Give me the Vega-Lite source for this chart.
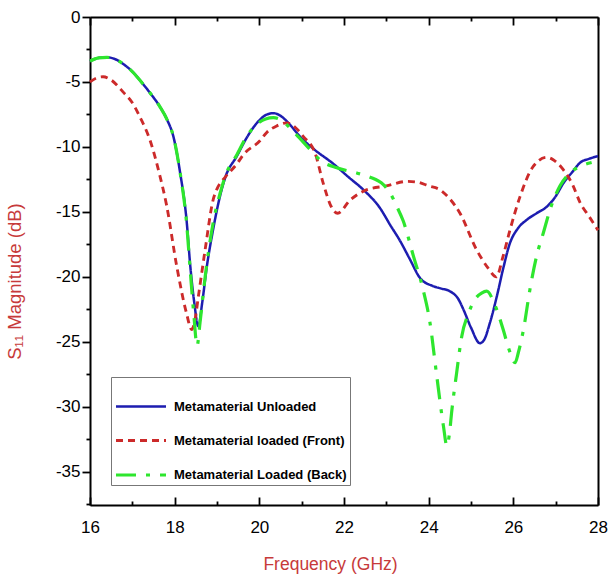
{
  "$schema": "https://vega.github.io/schema/vega-lite/v6.json",
  "width": 508,
  "height": 488,
  "autosize": "none",
  "padding": {"left": 90, "top": 17, "right": 10, "bottom": 70},
  "config": {
    "view": {"stroke": null},
    "font": "Liberation Sans",
    "axis": {"domainColor": "black", "domainWidth": 2, "tickColor": "black", "tickWidth": 1.8, "labelFont": "Liberation Sans", "labelFontSize": 17, "labelColor": "black", "titleFont": "Liberation Sans", "titleFontSize": 17.5, "titleFontWeight": "normal", "titleColor": "#c73a3a", "grid": false}
  },
  "datasets": {
    "curves": [
      {"s": "Metamaterial Unloaded", "f": 16.0, "v": -3.4},
      {"s": "Metamaterial Unloaded", "f": 16.2, "v": -3.15},
      {"s": "Metamaterial Unloaded", "f": 16.4, "v": -3.1},
      {"s": "Metamaterial Unloaded", "f": 16.6, "v": -3.25},
      {"s": "Metamaterial Unloaded", "f": 16.8, "v": -3.65},
      {"s": "Metamaterial Unloaded", "f": 17.0, "v": -4.2},
      {"s": "Metamaterial Unloaded", "f": 17.2, "v": -4.95},
      {"s": "Metamaterial Unloaded", "f": 17.42, "v": -5.85},
      {"s": "Metamaterial Unloaded", "f": 17.65, "v": -6.9},
      {"s": "Metamaterial Unloaded", "f": 17.82, "v": -7.9},
      {"s": "Metamaterial Unloaded", "f": 17.97, "v": -9.2},
      {"s": "Metamaterial Unloaded", "f": 18.13, "v": -12.0},
      {"s": "Metamaterial Unloaded", "f": 18.28, "v": -15.6},
      {"s": "Metamaterial Unloaded", "f": 18.37, "v": -19.2},
      {"s": "Metamaterial Unloaded", "f": 18.46, "v": -21.9},
      {"s": "Metamaterial Unloaded", "f": 18.56, "v": -23.8},
      {"s": "Metamaterial Unloaded", "f": 18.65, "v": -22.0},
      {"s": "Metamaterial Unloaded", "f": 18.76, "v": -19.2},
      {"s": "Metamaterial Unloaded", "f": 18.9, "v": -16.5},
      {"s": "Metamaterial Unloaded", "f": 19.07, "v": -13.8},
      {"s": "Metamaterial Unloaded", "f": 19.2, "v": -12.3},
      {"s": "Metamaterial Unloaded", "f": 19.47, "v": -10.7},
      {"s": "Metamaterial Unloaded", "f": 19.7, "v": -9.3},
      {"s": "Metamaterial Unloaded", "f": 20.0, "v": -7.95},
      {"s": "Metamaterial Unloaded", "f": 20.15, "v": -7.55},
      {"s": "Metamaterial Unloaded", "f": 20.33, "v": -7.4},
      {"s": "Metamaterial Unloaded", "f": 20.5, "v": -7.6},
      {"s": "Metamaterial Unloaded", "f": 20.7, "v": -8.2},
      {"s": "Metamaterial Unloaded", "f": 20.96, "v": -9.2},
      {"s": "Metamaterial Unloaded", "f": 21.3, "v": -10.2},
      {"s": "Metamaterial Unloaded", "f": 21.75, "v": -11.3},
      {"s": "Metamaterial Unloaded", "f": 22.1, "v": -12.3},
      {"s": "Metamaterial Unloaded", "f": 22.46, "v": -13.3},
      {"s": "Metamaterial Unloaded", "f": 22.85, "v": -14.7},
      {"s": "Metamaterial Unloaded", "f": 23.09, "v": -16.0},
      {"s": "Metamaterial Unloaded", "f": 23.32, "v": -17.2},
      {"s": "Metamaterial Unloaded", "f": 23.55, "v": -18.6},
      {"s": "Metamaterial Unloaded", "f": 23.8, "v": -20.1},
      {"s": "Metamaterial Unloaded", "f": 24.1, "v": -20.7},
      {"s": "Metamaterial Unloaded", "f": 24.3, "v": -20.9},
      {"s": "Metamaterial Unloaded", "f": 24.5, "v": -21.1},
      {"s": "Metamaterial Unloaded", "f": 24.7, "v": -21.7},
      {"s": "Metamaterial Unloaded", "f": 24.82, "v": -22.5},
      {"s": "Metamaterial Unloaded", "f": 25.0, "v": -23.9},
      {"s": "Metamaterial Unloaded", "f": 25.21, "v": -25.1},
      {"s": "Metamaterial Unloaded", "f": 25.3, "v": -24.9},
      {"s": "Metamaterial Unloaded", "f": 25.45, "v": -23.5},
      {"s": "Metamaterial Unloaded", "f": 25.61, "v": -21.5},
      {"s": "Metamaterial Unloaded", "f": 25.75, "v": -19.5},
      {"s": "Metamaterial Unloaded", "f": 25.92, "v": -17.4},
      {"s": "Metamaterial Unloaded", "f": 26.1, "v": -16.3},
      {"s": "Metamaterial Unloaded", "f": 26.32, "v": -15.6},
      {"s": "Metamaterial Unloaded", "f": 26.55, "v": -15.1},
      {"s": "Metamaterial Unloaded", "f": 26.79, "v": -14.6},
      {"s": "Metamaterial Unloaded", "f": 27.0, "v": -13.8},
      {"s": "Metamaterial Unloaded", "f": 27.18, "v": -12.8},
      {"s": "Metamaterial Unloaded", "f": 27.4, "v": -11.9},
      {"s": "Metamaterial Unloaded", "f": 27.58, "v": -11.2},
      {"s": "Metamaterial Unloaded", "f": 27.8, "v": -10.9},
      {"s": "Metamaterial Unloaded", "f": 28.0, "v": -10.7},

      {"s": "Metamaterial loaded (Front)", "f": 16.0, "v": -5.0},
      {"s": "Metamaterial loaded (Front)", "f": 16.15, "v": -4.7},
      {"s": "Metamaterial loaded (Front)", "f": 16.31, "v": -4.6},
      {"s": "Metamaterial loaded (Front)", "f": 16.5, "v": -4.85},
      {"s": "Metamaterial loaded (Front)", "f": 16.79, "v": -5.8},
      {"s": "Metamaterial loaded (Front)", "f": 17.0, "v": -6.6},
      {"s": "Metamaterial loaded (Front)", "f": 17.18, "v": -7.7},
      {"s": "Metamaterial loaded (Front)", "f": 17.42, "v": -9.5},
      {"s": "Metamaterial loaded (Front)", "f": 17.65, "v": -12.2},
      {"s": "Metamaterial loaded (Front)", "f": 17.81, "v": -14.5},
      {"s": "Metamaterial loaded (Front)", "f": 18.05, "v": -19.2},
      {"s": "Metamaterial loaded (Front)", "f": 18.28, "v": -22.8},
      {"s": "Metamaterial loaded (Front)", "f": 18.4, "v": -24.05},
      {"s": "Metamaterial loaded (Front)", "f": 18.48, "v": -23.3},
      {"s": "Metamaterial loaded (Front)", "f": 18.56, "v": -21.5},
      {"s": "Metamaterial loaded (Front)", "f": 18.72, "v": -17.9},
      {"s": "Metamaterial loaded (Front)", "f": 18.91, "v": -14.05},
      {"s": "Metamaterial loaded (Front)", "f": 18.99, "v": -13.3},
      {"s": "Metamaterial loaded (Front)", "f": 19.2, "v": -12.3},
      {"s": "Metamaterial loaded (Front)", "f": 19.47, "v": -11.3},
      {"s": "Metamaterial loaded (Front)", "f": 19.62, "v": -10.6},
      {"s": "Metamaterial loaded (Front)", "f": 20.02, "v": -9.5},
      {"s": "Metamaterial loaded (Front)", "f": 20.17, "v": -8.9},
      {"s": "Metamaterial loaded (Front)", "f": 20.4, "v": -8.4},
      {"s": "Metamaterial loaded (Front)", "f": 20.65, "v": -8.15},
      {"s": "Metamaterial loaded (Front)", "f": 20.85, "v": -8.5},
      {"s": "Metamaterial loaded (Front)", "f": 21.04, "v": -9.2},
      {"s": "Metamaterial loaded (Front)", "f": 21.32, "v": -10.5},
      {"s": "Metamaterial loaded (Front)", "f": 21.51, "v": -12.8},
      {"s": "Metamaterial loaded (Front)", "f": 21.7, "v": -14.6},
      {"s": "Metamaterial loaded (Front)", "f": 21.85, "v": -15.1},
      {"s": "Metamaterial loaded (Front)", "f": 22.14, "v": -14.1},
      {"s": "Metamaterial loaded (Front)", "f": 22.53, "v": -13.3},
      {"s": "Metamaterial loaded (Front)", "f": 23.0, "v": -13.0},
      {"s": "Metamaterial loaded (Front)", "f": 23.5, "v": -12.65},
      {"s": "Metamaterial loaded (Front)", "f": 23.72, "v": -12.7},
      {"s": "Metamaterial loaded (Front)", "f": 24.0, "v": -13.0},
      {"s": "Metamaterial loaded (Front)", "f": 24.27, "v": -13.3},
      {"s": "Metamaterial loaded (Front)", "f": 24.5, "v": -14.0},
      {"s": "Metamaterial loaded (Front)", "f": 24.74, "v": -15.1},
      {"s": "Metamaterial loaded (Front)", "f": 25.13, "v": -17.9},
      {"s": "Metamaterial loaded (Front)", "f": 25.4, "v": -19.3},
      {"s": "Metamaterial loaded (Front)", "f": 25.6, "v": -20.0},
      {"s": "Metamaterial loaded (Front)", "f": 25.75, "v": -18.5},
      {"s": "Metamaterial loaded (Front)", "f": 25.92, "v": -16.4},
      {"s": "Metamaterial loaded (Front)", "f": 26.16, "v": -13.8},
      {"s": "Metamaterial loaded (Front)", "f": 26.47, "v": -11.5},
      {"s": "Metamaterial loaded (Front)", "f": 26.79, "v": -10.8},
      {"s": "Metamaterial loaded (Front)", "f": 26.95, "v": -11.0},
      {"s": "Metamaterial loaded (Front)", "f": 27.18, "v": -11.75},
      {"s": "Metamaterial loaded (Front)", "f": 27.4, "v": -12.9},
      {"s": "Metamaterial loaded (Front)", "f": 27.58, "v": -14.3},
      {"s": "Metamaterial loaded (Front)", "f": 27.8, "v": -15.4},
      {"s": "Metamaterial loaded (Front)", "f": 28.0, "v": -16.4},

      {"s": "Metamaterial Loaded (Back)", "f": 16.0, "v": -3.4},
      {"s": "Metamaterial Loaded (Back)", "f": 16.2, "v": -3.15},
      {"s": "Metamaterial Loaded (Back)", "f": 16.4, "v": -3.1},
      {"s": "Metamaterial Loaded (Back)", "f": 16.6, "v": -3.25},
      {"s": "Metamaterial Loaded (Back)", "f": 16.8, "v": -3.65},
      {"s": "Metamaterial Loaded (Back)", "f": 17.0, "v": -4.2},
      {"s": "Metamaterial Loaded (Back)", "f": 17.2, "v": -4.95},
      {"s": "Metamaterial Loaded (Back)", "f": 17.42, "v": -5.85},
      {"s": "Metamaterial Loaded (Back)", "f": 17.65, "v": -6.9},
      {"s": "Metamaterial Loaded (Back)", "f": 17.82, "v": -7.9},
      {"s": "Metamaterial Loaded (Back)", "f": 17.97, "v": -9.2},
      {"s": "Metamaterial Loaded (Back)", "f": 18.13, "v": -12.0},
      {"s": "Metamaterial Loaded (Back)", "f": 18.28, "v": -15.8},
      {"s": "Metamaterial Loaded (Back)", "f": 18.37, "v": -19.6},
      {"s": "Metamaterial Loaded (Back)", "f": 18.45, "v": -22.8},
      {"s": "Metamaterial Loaded (Back)", "f": 18.53, "v": -25.3},
      {"s": "Metamaterial Loaded (Back)", "f": 18.6, "v": -23.5},
      {"s": "Metamaterial Loaded (Back)", "f": 18.72, "v": -20.0},
      {"s": "Metamaterial Loaded (Back)", "f": 18.9, "v": -16.0},
      {"s": "Metamaterial Loaded (Back)", "f": 19.07, "v": -13.6},
      {"s": "Metamaterial Loaded (Back)", "f": 19.2, "v": -12.2},
      {"s": "Metamaterial Loaded (Back)", "f": 19.47, "v": -10.6},
      {"s": "Metamaterial Loaded (Back)", "f": 19.7, "v": -9.2},
      {"s": "Metamaterial Loaded (Back)", "f": 20.0, "v": -8.1},
      {"s": "Metamaterial Loaded (Back)", "f": 20.15, "v": -7.85},
      {"s": "Metamaterial Loaded (Back)", "f": 20.33, "v": -7.75},
      {"s": "Metamaterial Loaded (Back)", "f": 20.5, "v": -7.9},
      {"s": "Metamaterial Loaded (Back)", "f": 20.8, "v": -8.8},
      {"s": "Metamaterial Loaded (Back)", "f": 21.2, "v": -10.2},
      {"s": "Metamaterial Loaded (Back)", "f": 21.43, "v": -11.0},
      {"s": "Metamaterial Loaded (Back)", "f": 21.83, "v": -11.6},
      {"s": "Metamaterial Loaded (Back)", "f": 22.3, "v": -12.0},
      {"s": "Metamaterial Loaded (Back)", "f": 22.6, "v": -12.3},
      {"s": "Metamaterial Loaded (Back)", "f": 22.93, "v": -12.9},
      {"s": "Metamaterial Loaded (Back)", "f": 23.1, "v": -13.6},
      {"s": "Metamaterial Loaded (Back)", "f": 23.25, "v": -14.6},
      {"s": "Metamaterial Loaded (Back)", "f": 23.4, "v": -15.7},
      {"s": "Metamaterial Loaded (Back)", "f": 23.64, "v": -18.4},
      {"s": "Metamaterial Loaded (Back)", "f": 23.87, "v": -21.0},
      {"s": "Metamaterial Loaded (Back)", "f": 24.03, "v": -23.5},
      {"s": "Metamaterial Loaded (Back)", "f": 24.19, "v": -27.6},
      {"s": "Metamaterial Loaded (Back)", "f": 24.35, "v": -31.5},
      {"s": "Metamaterial Loaded (Back)", "f": 24.43, "v": -33.0},
      {"s": "Metamaterial Loaded (Back)", "f": 24.5, "v": -31.8},
      {"s": "Metamaterial Loaded (Back)", "f": 24.54, "v": -30.5},
      {"s": "Metamaterial Loaded (Back)", "f": 24.66, "v": -27.4},
      {"s": "Metamaterial Loaded (Back)", "f": 24.78, "v": -24.6},
      {"s": "Metamaterial Loaded (Back)", "f": 24.94, "v": -22.8},
      {"s": "Metamaterial Loaded (Back)", "f": 25.1, "v": -21.7},
      {"s": "Metamaterial Loaded (Back)", "f": 25.25, "v": -21.25},
      {"s": "Metamaterial Loaded (Back)", "f": 25.37, "v": -21.1},
      {"s": "Metamaterial Loaded (Back)", "f": 25.57, "v": -22.2},
      {"s": "Metamaterial Loaded (Back)", "f": 25.76, "v": -24.05},
      {"s": "Metamaterial Loaded (Back)", "f": 25.9, "v": -25.6},
      {"s": "Metamaterial Loaded (Back)", "f": 26.04, "v": -26.6},
      {"s": "Metamaterial Loaded (Back)", "f": 26.12, "v": -25.8},
      {"s": "Metamaterial Loaded (Back)", "f": 26.24, "v": -24.05},
      {"s": "Metamaterial Loaded (Back)", "f": 26.39, "v": -21.0},
      {"s": "Metamaterial Loaded (Back)", "f": 26.55, "v": -18.4},
      {"s": "Metamaterial Loaded (Back)", "f": 26.71, "v": -16.6},
      {"s": "Metamaterial Loaded (Back)", "f": 26.87, "v": -14.8},
      {"s": "Metamaterial Loaded (Back)", "f": 27.1, "v": -13.0},
      {"s": "Metamaterial Loaded (Back)", "f": 27.34, "v": -12.0},
      {"s": "Metamaterial Loaded (Back)", "f": 27.65, "v": -11.4},
      {"s": "Metamaterial Loaded (Back)", "f": 27.85, "v": -11.2}
    ]
  },
  "data": {"name": "curves"},
  "resolve": {"axis": {"x": "independent", "y": "independent"}},
  "layer": [
    {
      "mark": {"type": "line", "interpolate": "monotone", "strokeCap": "butt"},
      "encoding": {
        "x": {"field": "f", "type": "quantitative", "scale": {"domain": [16, 28], "nice": false, "zero": false},
          "axis": {"orient": "bottom", "title": "Frequency (GHz)", "values": [16,17,18,19,20,21,22,23,24,25,26,27,28],
            "labelExpr": "datum.value % 2 == 0 ? toString(datum.value) : ''",
            "tickSize": {"condition": {"test": "datum.value % 2 == 1", "value": -4}, "value": -8},
            "labelPadding": 22, "titleX": 240, "titleY": 59, "titleBaseline": "middle", "titleAnchor": "middle", "labelFlush": false}},
        "y": {"field": "v", "type": "quantitative", "scale": {"domain": [-37.55, 0], "nice": false, "zero": false},
          "axis": {"orient": "left", "title": "S₁₁ Magnitude (dB)", "titleFontSize": 18.5, "values": [0,-2.5,-5,-7.5,-10,-12.5,-15,-17.5,-20,-22.5,-25,-27.5,-30,-32.5,-35,-37.5],
            "labelExpr": "datum.value % 5 == 0 ? toString(datum.value) : ''",
            "tickSize": {"condition": {"test": "datum.value % 5 != 0", "value": 4}, "value": 8},
            "labelPadding": 2, "titleX": -66, "titleY": 264, "titleBaseline": "bottom", "titleAngle": -90, "labelFlush": false}},
        "color": {"field": "s", "type": "nominal", "sort": null,
          "scale": {"domain": ["Metamaterial Unloaded", "Metamaterial loaded (Front)", "Metamaterial Loaded (Back)"], "range": ["#1d1db0", "#cc2a2a", "#2ee62e"]},
          "legend": {"orient": "none", "legendX": 21, "legendY": 360, "title": null, "strokeColor": "#777", "fillColor": "white", "padding": 3, "symbolType": "stroke", "symbolSize": 2500, "labelFont": "Liberation Sans", "labelFontSize": 13, "labelFontWeight": "bold", "labelColor": "black", "rowPadding": -20, "labelOffset": 6, "labelLimit": 300}},
        "strokeDash": {"field": "s", "type": "nominal", "sort": null,
          "scale": {"domain": ["Metamaterial Unloaded", "Metamaterial loaded (Front)", "Metamaterial Loaded (Back)"], "range": [[1, 0], [7, 5], [20, 10, 4, 10]]}},
        "strokeWidth": {"field": "s", "type": "nominal", "sort": null,
          "scale": {"domain": ["Metamaterial Unloaded", "Metamaterial loaded (Front)", "Metamaterial Loaded (Back)"], "range": [2.5, 3.2, 5]}}
      }
    },
    {
      "mark": {"type": "line", "opacity": 0},
      "encoding": {
        "x": {"field": "f", "type": "quantitative",
          "axis": {"orient": "top", "title": null, "labels": false, "values": [16,17,18,19,20,21,22,23,24,25,26,27,28],
            "tickSize": {"condition": {"test": "datum.value % 2 == 1", "value": -4}, "value": -8}}},
        "y": {"field": "v", "type": "quantitative",
          "axis": {"orient": "right", "title": null, "labels": false, "ticks": false}}
      }
    }
  ]
}
